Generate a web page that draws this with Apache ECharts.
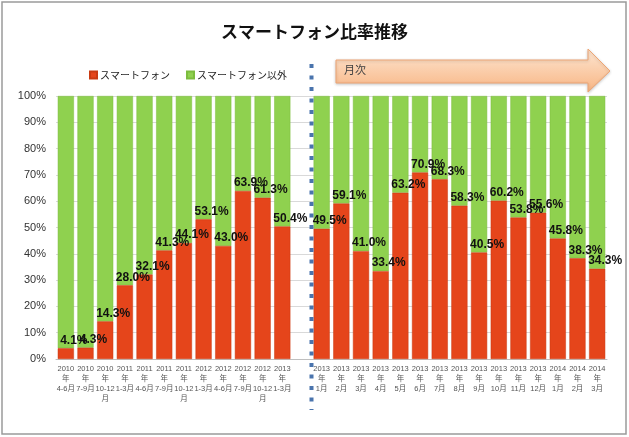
<!DOCTYPE html>
<html><head><meta charset="utf-8">
<script src="https://cdn.jsdelivr.net/npm/echarts@6/dist/echarts.min.js"></script>
<style>html,body{margin:0;padding:0;background:#fff}#c{width:629px;height:437px}</style>
</head><body><div id="c"></div>
<script>
// Data
var quarterCats = ['2010\n年\n4-6月','2010\n年\n7-9月','2010\n年\n10-12\n月','2011\n年\n1-3月','2011\n年\n4-6月','2011\n年\n7-9月','2011\n年\n10-12\n月','2012\n年\n1-3月','2012\n年\n4-6月','2012\n年\n7-9月','2012\n年\n10-12\n月','2013\n年\n1-3月'];
var monthCats = ['2013\n年\n1月','2013\n年\n2月','2013\n年\n3月','2013\n年\n4月','2013\n年\n5月','2013\n年\n6月','2013\n年\n7月','2013\n年\n8月','2013\n年\n9月','2013\n年\n10月','2013\n年\n11月','2013\n年\n12月','2014\n年\n1月','2014\n年\n2月','2014\n年\n3月'];
var quarterSmart = [4.1, 4.3, 14.3, 28.0, 32.1, 41.3, 44.1, 53.1, 43.0, 63.9, 61.3, 50.4];
var monthSmart = [49.5, 59.1, 41.0, 33.4, 63.2, 70.9, 68.3, 58.3, 40.5, 60.2, 53.8, 55.6, 45.8, 38.3, 34.3];
var yTicks = [0,10,20,30,40,50,60,70,80,90,100];

var GAP = ' ';
var categories = quarterCats.concat([GAP], monthCats);
var smart = quarterSmart.concat(['-'], monthSmart);
var other = smart.map(function(v){ return v === '-' ? '-' : +(100 - v).toFixed(1); });

var FONT = '"Liberation Sans", "Noto Sans CJK JP", sans-serif';
var chart = echarts.init(document.getElementById('c'), null, {renderer:'canvas'});
var option = {
  animation: false,
  backgroundColor: '#ffffff',
  title: {
    text: 'スマートフォン比率推移', left: 'center', top: 18,
    textStyle: {fontFamily: '"Noto Sans CJK JP", sans-serif', fontSize: 17, fontWeight: 'bold', color: '#111'}
  },
  legend: {
    left: 84, top: 65, itemWidth: 7, itemHeight: 7, itemGap: 16,
    icon: 'rect',
    textStyle: {fontFamily: '"Noto Sans CJK JP", sans-serif', fontSize: 10, color: '#222', padding:[0,0,0,-2]},
    data: ['スマートフォン', 'スマートフォン以外']
  },
  grid: {left: 56, right: 22, top: 96, bottom: 78, containLabel: false},
  xAxis: {
    type: 'category', data: categories,
    axisTick: {show: false},
    axisLine: {show: true, lineStyle: {color: '#bfbfbf'}},
    axisLabel: {interval: 0, fontFamily: FONT, fontSize: 7.5, lineHeight: 10, color: '#555', margin: 5}
  },
  yAxis: {
    type: 'value', min: 0, max: 100, interval: 10,
    axisLine: {show: false}, axisTick: {show: false},
    splitLine: {lineStyle: {color: '#d9d9d9'}},
    axisLabel: {formatter: function(v){ return yTicks.indexOf(v) >= 0 ? v + '%' : ''; }, fontFamily: FONT, fontSize: 11, color: '#333', margin: 10}
  },
  series: [
    {
      name: 'スマートフォン', type: 'bar', stack: 'total', data: smart,
      barCategoryGap: '18%', z: 3,
      itemStyle: {color: '#e5451b', borderColor: '#c93a12', borderWidth: 0.5},
      label: {
        show: true, position: 'top', distance: 2, offset: [8, 0],
        formatter: function(p){ return p.value.toFixed(1) + '%'; },
        fontFamily: FONT, fontSize: 12, fontWeight: 'bold', color: '#111'
      }
    },
    {
      name: 'スマートフォン以外', type: 'bar', stack: 'total', data: other,
      barCategoryGap: '18%', z: 2,
      itemStyle: {color: '#8fd14f', borderColor: '#7cbc3e', borderWidth: 0.5}
    }
  ]
};
chart.setOption(option);

// divider position: boundary between gap slot and first monthly slot
var pGap = chart.convertToPixel({xAxisIndex: 0}, GAP);
var pFirst = chart.convertToPixel({xAxisIndex: 0}, monthCats[0]);
var xDiv = Math.round((pGap + pFirst) / 2) - 0.5;

chart.setOption({
  graphic: [
    {type: 'rect', shape: {x: 2, y: 2, width: 624, height: 432}, style: {fill: 'none', stroke: '#9a9a9a', lineWidth: 1.5}, z: 100},
    {type: 'line', shape: {x1: xDiv, y1: 64, x2: xDiv, y2: 410}, style: {stroke: '#4a74ad', lineWidth: 4, lineDash: [4, 7.5]}, z: 50},
    {type: 'polygon', shape: {points: [[336,60],[588,60],[588,49],[610,71],[588,92],[588,83],[336,83]]},
     style: {fill: new echarts.graphic.LinearGradient(0,0,0,1,[{offset:0,color:'#fde6d2'},{offset:1,color:'#f8b583'}]), stroke: '#eea574', lineWidth: 1,
       shadowBlur: 3, shadowColor: 'rgba(0,0,0,0.2)', shadowOffsetY: 1}, z: 50},
    {type: 'text', left: 344, top: 64, style: {text: '月次', font: '11px "Noto Sans CJK JP", sans-serif', fill: '#404040'}, z: 51}
  ]
});
</script>
</body></html>
